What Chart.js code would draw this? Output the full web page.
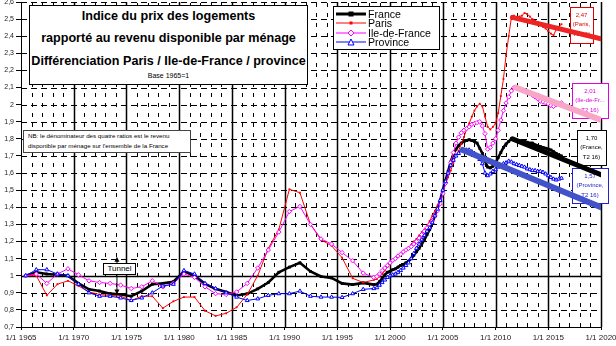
<!DOCTYPE html>
<html lang="fr">
<head>
<meta charset="UTF-8">
<title>Indice du prix des logements / revenu par ménage</title>
<script src="https://cdn.jsdelivr.net/npm/chart.js@4"></script>
<style>
  body { margin: 0; width: 616px; height: 346px; overflow: hidden; background: #fff; position: relative;
         font-family: "Liberation Sans", Arial, sans-serif; color: #000; }
  #chart { position: absolute; left: 0; top: -3px; }
  .box { position: absolute; background: #fff; box-sizing: border-box; }
  #title { left: 29px; top: 5px; width: 279px; height: 80px; border: 1.5px solid #000; }
  .tl { position: absolute; left: 0; right: 0; text-align: center; white-space: nowrap;
        font-weight: bold; font-size: 12.6px; line-height: 14px; }
  #note { left: 23px; top: 130px; width: 168px; height: 23px; border: 1.5px solid #444;
          font-size: 6.2px; line-height: 9.5px; padding: 0 0 0 4px; white-space: nowrap; }
  #legend { left: 333px; top: 6px; width: 107px; height: 44px; border: 1.5px solid #000; }
  .lg { position: absolute; left: 2px; height: 10px; display: flex; align-items: center;
        font-size: 10.6px; line-height: 10px; white-space: nowrap; }
  .lg svg { margin-right: 2px; }
  #tunnel { left: 103px; top: 263px; width: 33px; height: 12px; border: 1px solid #000;
            font-size: 8px; line-height: 10px; text-align: center; }
</style>
</head>
<body>
<canvas id="chart" width="616" height="349"></canvas>

<div id="title" class="box">
  <div class="tl" style="top:2.5px">Indice du prix des logements</div>
  <div class="tl" style="top:24.5px">rapporté au revenu disponible par ménage</div>
  <div class="tl" style="top:47.5px">Différenciation Paris / Ile-de-France / province</div>
  <div class="tl" style="top:65.5px;font-weight:normal;font-size:7px;line-height:8px">Base 1965=1</div>
</div>

<div id="note" class="box">NB: le dénominateur des quatre ratios est le revenu<br>disponible par ménage sur l'ensemble de la France</div>

<div id="legend" class="box">
  <div class="lg" style="top:1.5px"><svg width="30" height="10"><line x1="0" y1="5" x2="30" y2="5" stroke="#000" stroke-width="3"/><rect x="12.5" y="2.5" width="5" height="5" fill="#000"/></svg>France</div>
  <div class="lg" style="top:11px"><svg width="30" height="10"><line x1="0" y1="5" x2="30" y2="5" stroke="#ff0000" stroke-width="1"/><rect x="13.5" y="3.5" width="3" height="3" fill="#ff0000"/></svg>Paris</div>
  <div class="lg" style="top:20.5px"><svg width="30" height="10"><line x1="0" y1="5" x2="30" y2="5" stroke="#ff00ff" stroke-width="1"/><polygon points="15,2 18,5 15,8 12,5" fill="#fff" stroke="#ff00ff"/></svg>Ile-de-France</div>
  <div class="lg" style="top:30px"><svg width="30" height="10"><line x1="0" y1="5" x2="30" y2="5" stroke="#0000ff" stroke-width="1"/><polygon points="15,2 18,8 12,8" fill="#fff" stroke="#0000ff"/></svg>Province</div>
</div>

<div id="tunnel" class="box">Tunnel</div>

<script>
// annual averages 1965-1998 (plotted mid-year)
const annualYears = [1965, 1966, 1967, 1968, 1969, 1970, 1971, 1972, 1973, 1974,
                     1975, 1976, 1977, 1978, 1979, 1980, 1981, 1982, 1983, 1984,
                     1985, 1986, 1987, 1988, 1989, 1990, 1991, 1992, 1993, 1994,
                     1995, 1996, 1997, 1998];
const franceAnnual = [1.00, 1.02, 1.01, 1.005, 1.00, 0.955, 0.92, 0.91, 0.895, 0.89,
                      0.88, 0.91, 0.95, 0.955, 0.965, 1.025, 1.00, 0.952, 0.923, 0.904,
                      0.884, 0.894, 0.923, 0.96, 1.02, 1.05, 1.075, 1.025, 0.995, 0.987,
                      0.955, 0.948, 0.958, 0.948];
const parisAnnual = [1.00, 1.00, 0.885, 0.95, 0.97, 0.94, 0.905, 0.89, 0.885, 0.88,
                     0.855, 0.88, 0.88, 0.81, 0.85, 0.875, 0.875, 0.795, 0.765, 0.78,
                     0.815, 0.89, 1.00, 1.16, 1.27, 1.505, 1.485, 1.30, 1.21, 1.175,
                     1.105, 0.985, 0.96, 0.975];
const idfAnnual = [1.00, 1.01, 0.955, 1.01, 1.04, 1.005, 0.97, 0.96, 0.955, 0.945,
                   0.925, 0.935, 0.97, 0.935, 0.955, 1.01, 0.99, 0.935, 0.895, 0.89,
                   0.905, 0.955, 1.045, 1.15, 1.255, 1.375, 1.405, 1.30, 1.215, 1.185,
                   1.135, 1.087, 1.015, 0.99];
const provinceAnnual = [1.00, 1.035, 1.035, 1.01, 1.00, 0.95, 0.90, 0.88, 0.88, 0.87,
                        0.855, 0.87, 0.90, 0.94, 0.95, 1.03, 1.01, 0.955, 0.925, 0.90,
                        0.875, 0.855, 0.865, 0.885, 0.895, 0.895, 0.91, 0.88, 0.875, 0.875,
                        0.873, 0.895, 0.92, 0.925];

// quarterly values, 1998 T4 to 2016 T2
const quarters = [1998.75,
  1999, 1999.25, 1999.5, 1999.75,  2000, 2000.25, 2000.5, 2000.75,
  2001, 2001.25, 2001.5, 2001.75,  2002, 2002.25, 2002.5, 2002.75,
  2003, 2003.25, 2003.5, 2003.75,  2004, 2004.25, 2004.5, 2004.75,
  2005, 2005.25, 2005.5, 2005.75,  2006, 2006.25, 2006.5, 2006.75,
  2007, 2007.25, 2007.5, 2007.75,  2008, 2008.25, 2008.5, 2008.75,
  2009, 2009.25, 2009.5, 2009.75,  2010, 2010.25, 2010.5, 2010.75,
  2011, 2011.25, 2011.5, 2011.75,  2012, 2012.25, 2012.5, 2012.75,
  2013, 2013.25, 2013.5, 2013.75,  2014, 2014.25, 2014.5, 2014.75,
  2015, 2015.25, 2015.5, 2015.75,  2016, 2016.25];
const franceQuarterly = [0.95,
  0.965, 0.985, 1.005, 1.02,   1.025, 1.035, 1.04, 1.05,
  1.06, 1.065, 1.075, 1.085,   1.10, 1.12, 1.14, 1.16,
  1.185, 1.21, 1.24, 1.27,     1.31, 1.35, 1.395, 1.44,
  1.50, 1.555, 1.61, 1.665,    1.71, 1.74, 1.76, 1.775,
  1.785, 1.79, 1.795, 1.79,    1.785, 1.775, 1.745, 1.715,
  1.67, 1.635, 1.63, 1.64,     1.66, 1.69, 1.72, 1.75,
  1.77, 1.785, 1.80, 1.795,    1.79, 1.79, 1.785, 1.785,
  1.78, 1.775, 1.775, 1.765,   1.76, 1.755, 1.75, 1.745,
  1.74, 1.735, 1.725, 1.715,   1.705, 1.70];
const parisQuarterly = [0.98,
  0.995, 1.01, 1.03, 1.05,     1.07, 1.085, 1.095, 1.11,
  1.12, 1.135, 1.15, 1.165,    1.18, 1.20, 1.215, 1.235,
  1.255, 1.27, 1.29, 1.32,     1.35, 1.38, 1.41, 1.445,
  1.49, 1.535, 1.575, 1.615,   1.66, 1.70, 1.73, 1.77,
  1.81, 1.855, 1.89, 1.93,     1.965, 1.99, 2.005, 1.99,
  1.93, 1.87, 1.855, 1.87,     1.89, 1.95, 2.05, 2.15,
  2.29, 2.40, 2.51, 2.52,      2.50, 2.515, 2.52, 2.535,
  2.53, 2.515, 2.50, 2.49,     2.48, 2.47, 2.455, 2.445,
  2.43, 2.415, 2.405, 2.44,    2.455, 2.47];
const idfQuarterly = [0.995,
  1.01, 1.03, 1.045, 1.06,     1.075, 1.09, 1.10, 1.115,
  1.125, 1.14, 1.15, 1.16,     1.17, 1.185, 1.20, 1.22,
  1.24, 1.26, 1.28, 1.30,      1.32, 1.35, 1.38, 1.42,
  1.48, 1.54, 1.60, 1.66,      1.72, 1.775, 1.81, 1.835,
  1.85, 1.86, 1.87, 1.885,     1.89, 1.895, 1.90, 1.875,
  1.83, 1.74, 1.75, 1.775,     1.80, 1.85, 1.91, 1.965,
  2.01, 2.045, 2.08, 2.10,     2.095, 2.09, 2.085, 2.08,
  2.07, 2.065, 2.055, 2.045,   2.035, 2.02, 2.015, 2.01,
  2.005, 1.995, 1.99, 2.00,    2.005, 2.01];
const provinceQuarterly = [0.93,
  0.945, 0.96, 0.975, 0.99,    1.00, 1.005, 1.01, 1.02,
  1.03, 1.045, 1.06, 1.075,    1.10, 1.13, 1.16, 1.185,
  1.21, 1.235, 1.26, 1.28,     1.31, 1.35, 1.39, 1.44,
  1.50, 1.55, 1.60, 1.645,     1.675, 1.70, 1.715, 1.73,
  1.73, 1.735, 1.735, 1.725,   1.715, 1.705, 1.68, 1.655,
  1.60, 1.585, 1.595, 1.61,    1.62, 1.635, 1.645, 1.655,
  1.66, 1.67, 1.665, 1.655,    1.65, 1.645, 1.64, 1.635,
  1.625, 1.62, 1.615, 1.615,   1.61, 1.61, 1.605, 1.595,
  1.585, 1.575, 1.565, 1.56,   1.565, 1.57];

// "tunnel" trend lines drawn to 2020
const trendStartYear  = [2011.6, 2011.9, 2011.6, 2006.9];
const trendStartValue = [2.51, 2.10, 1.80, 1.735];
const trendEndYear    = [2020, 2020, 2020, 2020];
const trendEndValue   = [2.385, 1.91, 1.59, 1.40];

const xTicks = [1965, 2020];       // axis range, one label every 5 years
const yRange = [0.7, 2.6];

const MID_YEAR = 0.45;
const CANVAS_TOP = 3;              // canvas is moved 3px up so 2,6 sits on the edge

function series(annual, quarterly) {
  const pts = annualYears.map((yr, i) => ({ x: yr + MID_YEAR, y: annual[i] }));
  quarters.forEach((q, i) => pts.push({ x: q, y: quarterly[i] }));
  return pts;
}

const trendColors = ['#ec2424', '#f7a6c8', '#000000', '#4252c8'];
const trendWidths = [5, 6, 5, 6];
const trendSets = trendStartYear.map((s, i) => ({
  data: [{ x: s, y: trendStartValue[i] }, { x: trendEndYear[i], y: trendEndValue[i] }],
  borderColor: trendColors[i],
  borderWidth: trendWidths[i],
  pointRadius: 0,
  borderCapStyle: 'round',
  order: 1 + i
}));

const endLabels = [
  { lines: ['2,47', '(Paris,', 'T2 16)'], color: '#e00000', left: 570, top: 7, w: 23, h: 36 },
  { lines: ['2,01', '(Ile-de-Fr...', 'T2 16)'], color: '#e000e0', left: 572, top: 83, w: 36, h: 35 },
  { lines: ['1,70', '(France,', 'T2 16)'], color: '#000000', left: 577, top: 130, w: 29, h: 35 },
  { lines: ['1,57', '(Province,', 'T2 16)'], color: '#2020d0', left: 572, top: 168, w: 36, h: 35 }
];
const tunnelArrow = { year: 1974.1, top: 1.11, bottom: 0.89 };

const chartDecor = {
  id: 'chartDecor',
  beforeDatasetsDraw(chart) {
    const { ctx, chartArea: a, scales: { x, y } } = chart;
    ctx.save();
    ctx.strokeStyle = '#000';
    // horizontal grid, solid on 1
    y.ticks.forEach(t => {
      const py = Math.round(y.getPixelForValue(t.value)) + 0.5;
      const solid = Math.abs(t.value - 1) < 1e-6;
      ctx.lineWidth = solid ? 1.3 : 1;
      ctx.setLineDash(solid ? [] : [6, 4]);
      ctx.beginPath(); ctx.moveTo(a.left, py); ctx.lineTo(a.right, py); ctx.stroke();
    });
    // vertical grid: yearly dashes, solid every 5 years
    for (let yr = xTicks[0] + 1; yr <= xTicks[1]; yr++) {
      const px = Math.round(x.getPixelForValue(yr)) + 0.5;
      const solid = yr % 5 === 0;
      ctx.lineWidth = solid ? 1.5 : 1;
      ctx.setLineDash(solid ? [] : [4, 6]);
      ctx.beginPath(); ctx.moveTo(px, a.bottom); ctx.lineTo(px, a.top); ctx.stroke();
    }
    ctx.setLineDash([]);
    // value boxes at the end of the series
    endLabels.forEach(b => {
      const top = b.top + CANVAS_TOP;
      ctx.fillStyle = '#fff';
      ctx.fillRect(b.left, top, b.w, b.h);
      ctx.strokeStyle = b.color;
      ctx.lineWidth = 1;
      ctx.strokeRect(b.left + 0.5, top + 0.5, b.w, b.h);
      ctx.fillStyle = b.color;
      ctx.font = '6px "Liberation Sans", Arial, sans-serif';
      ctx.textAlign = 'center';
      ctx.textBaseline = 'middle';
      b.lines.forEach((l, i) => ctx.fillText(l, b.left + b.w / 2, top + 8 + i * 9.5));
    });
    ctx.restore();
  },
  afterDatasetsDraw(chart) {
    const { ctx, scales: { x, y } } = chart;
    const px = x.getPixelForValue(tunnelArrow.year);
    const y1 = y.getPixelForValue(tunnelArrow.top);
    const y2 = y.getPixelForValue(tunnelArrow.bottom);
    ctx.save();
    ctx.strokeStyle = '#000';
    ctx.fillStyle = '#000';
    ctx.lineWidth = 1;
    ctx.beginPath(); ctx.moveTo(px, y1 + 3); ctx.lineTo(px, y2 - 3); ctx.stroke();
    ctx.beginPath(); ctx.moveTo(px, y1); ctx.lineTo(px - 2.5, y1 + 5); ctx.lineTo(px + 2.5, y1 + 5); ctx.fill();
    ctx.beginPath(); ctx.moveTo(px, y2); ctx.lineTo(px - 2.5, y2 - 5); ctx.lineTo(px + 2.5, y2 - 5); ctx.fill();
    ctx.restore();
  }
};

function fmt(v) {
  const r = Math.round(v * 10) / 10;
  return Number.isInteger(r) ? String(r) : r.toFixed(1).replace('.', ',');
}

new Chart(document.getElementById('chart'), {
  type: 'line',
  data: {
    datasets: [
      { label: 'France', data: series(franceAnnual, franceQuarterly), borderColor: '#000', borderWidth: 2.6,
        pointStyle: 'rect', pointRadius: 2, pointBackgroundColor: '#000', pointBorderWidth: 0, order: 8 },
      { label: 'Paris', data: series(parisAnnual, parisQuarterly), borderColor: '#ff0000', borderWidth: 1,
        pointStyle: 'rect', pointRadius: 1.3, pointBackgroundColor: '#ff0000', pointBorderWidth: 0, order: 7 },
      { label: 'Ile-de-France', data: series(idfAnnual, idfQuarterly), borderColor: '#ff00ff', borderWidth: 1,
        pointStyle: 'rectRot', pointRadius: 2.2, pointBackgroundColor: '#fff', pointBorderColor: '#ff00ff',
        pointBorderWidth: 1, order: 6 },
      { label: 'Province', data: series(provinceAnnual, provinceQuarterly), borderColor: '#0000ff', borderWidth: 1,
        pointStyle: 'triangle', pointRadius: 2.2, pointBackgroundColor: '#fff', pointBorderColor: '#0000ff',
        pointBorderWidth: 1, order: 5 },
      ...trendSets
    ]
  },
  options: {
    responsive: false,
    animation: false,
    layout: { padding: { left: 0, right: 15, top: 0, bottom: 0 } },
    plugins: { legend: { display: false }, tooltip: { enabled: false } },
    scales: {
      x: {
        type: 'linear', min: xTicks[0], max: xTicks[1],
        ticks: { stepSize: 5, autoSkip: false, maxRotation: 0, padding: 3, color: '#222',
                 font: { family: 'Liberation Sans', size: 8 }, callback: v => '1/1 ' + v },
        grid: { drawOnChartArea: false, tickLength: 3, color: '#000' },
        border: { color: '#000', width: 1 },
        afterFit(s) { s.height = 19; s.paddingLeft = 0; s.paddingRight = 0; }
      },
      y: {
        min: yRange[0], max: yRange[1],
        ticks: { stepSize: 0.1, autoSkip: false, padding: 2, color: '#222',
                 font: { family: 'Liberation Sans', size: 7 }, callback: fmt },
        grid: { drawOnChartArea: false, tickLength: 5, color: '#000' },
        border: { color: '#000', width: 1 },
        afterFit(s) { s.width = 21; s.paddingTop = 0; s.paddingBottom = 0; }
      }
    }
  },
  plugins: [chartDecor]
});
</script>
</body>
</html>
